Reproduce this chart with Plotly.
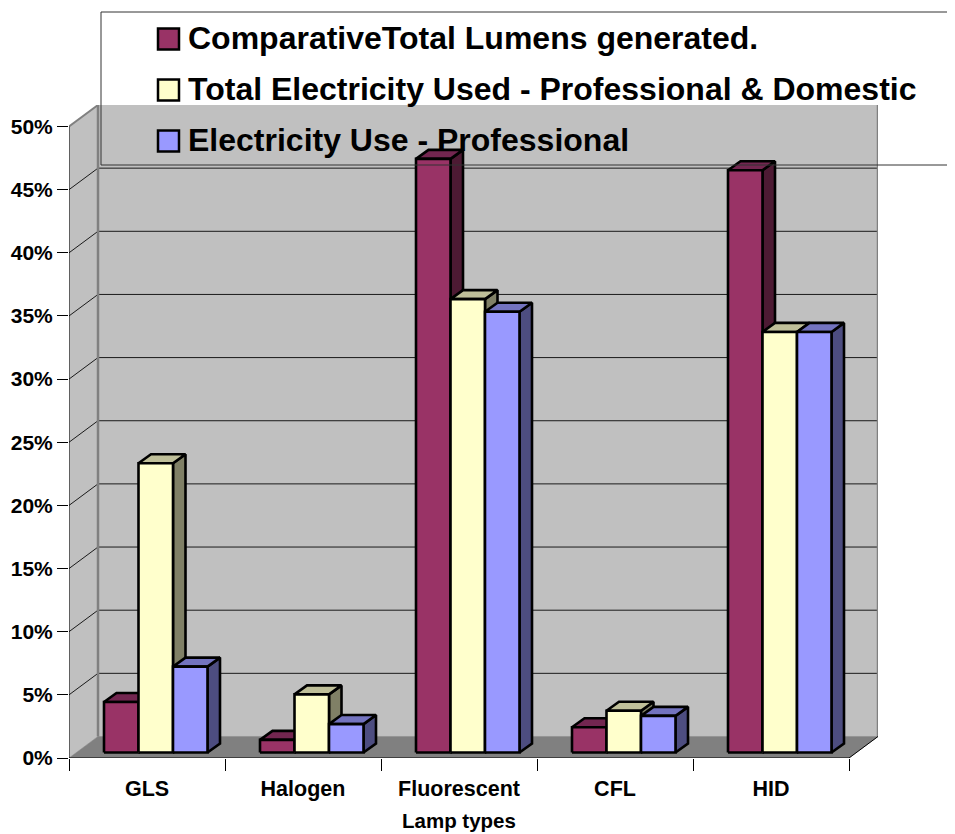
import plotly.graph_objects as go

categories = ["GLS", "Halogen", "Fluorescent", "CFL", "HID"]
series_names = ["ComparativeTotal Lumens generated.",
                "Total Electricity Used - Professional & Domestic",
                "Electricity Use - Professional"]
axis_title = "Lamp types"
lumens = [4.0, 1.0, 47.0, 2.0, 46.1]
total_use = [22.9, 4.6, 35.9, 3.3, 33.3]
professional = [6.8, 2.25, 34.9, 2.9, 33.3]
y_ticks = [0, 5, 10, 15, 20, 25, 30, 35, 40, 45, 50]

PAGE = 8                            # browser's body margin
W, H = 955 - PAGE, 834 - PAGE
L, R, T, B = 69 - PAGE, 878 - PAGE, 105 - PAGE, 758 - PAGE  # plot rectangle
PX_X = 156.0                        # pixels per category
PX_Y = 12.62                        # pixels per percent
DX, DY = 29 / PX_X, 21.5 / PX_Y     # wall depth, data units
BAR_W = 34.5 / PX_X
BAR_X0 = 35 / PX_X
BASE = 5.5 / PX_Y
BDX, BDY = 12.5 / PX_X, 9 / PX_Y    # bar depth, data units
FONT = "Liberation Sans, Arial, sans-serif"

front_cols = ["#993366", "#FFFFCC", "#9999FF"]
top_cols = ["#732650", "#BFBF99", "#7373BF"]
side_cols = ["#4D1A33", "#808066", "#4D4D80"]
WALL, FLOOR, EDGE = "#C0C0C0", "#808080", "#808080"

fig = go.Figure()


def poly(xs, ys, fill=None, color="black", width=1):
    fig.add_trace(go.Scatter(
        x=xs, y=ys, mode="lines", showlegend=False, hoverinfo="skip",
        fill="toself" if fill else None, fillcolor=fill,
        line=dict(color=color, width=width, simplify=False)))


x_end = len(categories)
top = max(y_ticks)
# walls and floor
poly([0, DX, DX, 0, 0], [0, DY, top + DY, top, 0], WALL, WALL, 0.5)
poly([DX, x_end + DX, x_end + DX, DX, DX], [DY, DY, top + DY, top + DY, DY], WALL, WALL, 0.5)
poly([0, x_end, x_end + DX, DX, 0], [0, 0, DY, DY, 0], FLOOR, FLOOR, 0.5)
# gridlines
gx, gy = [], []
for v in y_ticks[1:-1]:
    gx += [0, DX, x_end + DX, None]
    gy += [v, v + DY, v + DY, None]
poly(gx, gy, None, "#1a1a1a", 1)
# wall edges
poly([0, DX], [top, top + DY], None, EDGE, 2)
poly([DX, DX], [DY, top + DY], None, EDGE, 2.5)
poly([x_end + DX, x_end + DX], [DY, top + DY], None, EDGE, 2.5)
# axis lines
poly([0, 0], [0, top], None, "black", 1)
poly([0, x_end], [0, 0], None, "black", 1)
poly([x_end, x_end + DX], [0, DY], None, "black", 1)

# bars, series by series so each hides the side of the one before it
for s, vals in enumerate([lumens, total_use, professional]):
    fx, fy, tx, ty, sx, sy = [], [], [], [], [], []
    for c, v in enumerate(vals):
        x0 = c + BAR_X0 + s * BAR_W
        x1 = x0 + BAR_W
        y0, y1 = BASE, BASE + v
        fx += [x0, x1, x1, x0, x0, None]
        fy += [y0, y0, y1, y1, y0, None]
        tx += [x0, x1, x1 + BDX, x0 + BDX, x0, None]
        ty += [y1, y1, y1 + BDY, y1 + BDY, y1, None]
        sx += [x1, x1 + BDX, x1 + BDX, x1, x1, None]
        sy += [y0, y0 + BDY, y1 + BDY, y1, y0, None]
    poly(sx, sy, side_cols[s], "black", 2.6)
    poly(tx, ty, top_cols[s], "black", 2.6)
    poly(fx, fy, front_cols[s], "black", 2.6)


# legend, drawn in page-pixel positions over the chart
def px(v):
    return (v - PAGE - L) / (R - L)


def py(v):
    return (B - (v - PAGE)) / (B - T)


shapes = [dict(type="line", xref="paper", yref="paper", layer="above",
               x0=px(a), x1=px(c), y0=py(b), y1=py(d),
               line=dict(color="#333333", width=1))
          for a, b, c, d in [(101, 12, 955, 12), (101, 12, 101, 165), (101, 165, 955, 165)]]
annotations = []
for i, name in enumerate(series_names):
    cy = 39 + i * 51
    shapes.append(dict(type="rect", xref="paper", yref="paper", layer="above",
                       x0=px(158), x1=px(179), y0=py(cy + 10.5), y1=py(cy - 10.5),
                       fillcolor=front_cols[i], line=dict(color="black", width=2.5)))
    annotations.append(dict(text=name, xref="paper", yref="paper", showarrow=False,
                            x=px(186), y=py(cy - 0.7), xanchor="left", yanchor="middle",
                            font=dict(family=FONT, size=32, color="black", weight=700)))
annotations.append(dict(text=axis_title, xref="paper", yref="paper", showarrow=False,
                        x=px(459), y=py(820), xanchor="center", yanchor="middle",
                        font=dict(family=FONT, size=20.5, color="black", weight=700)))

fig.update_layout(
    width=W, height=H, autosize=False, showlegend=False,
    paper_bgcolor="white", plot_bgcolor="white",
    margin=dict(l=L, r=W - R, t=T, b=H - B, pad=0),
    shapes=shapes, annotations=annotations,
    xaxis=dict(range=[0, x_end + DX], tickmode="array", automargin=False,
               tickvals=[c + 0.5 for c in range(x_end)], ticktext=categories,
               ticks="outside", ticklen=11, tickcolor="rgba(0,0,0,0)",
               minor=dict(tickmode="array", tickvals=list(range(x_end + 1)),
                          ticks="outside", ticklen=12, tickcolor="black", tickwidth=1),
               showgrid=False, zeroline=False, showline=False,
               tickfont=dict(family=FONT, size=21.5, color="black", weight=700)),
    yaxis=dict(range=[0, top + DY], tickmode="array", tickvals=y_ticks, automargin=False,
               ticktext=[f"{v}%" for v in y_ticks],
               ticks="outside", ticklen=11, tickcolor="black", tickwidth=1,
               showgrid=False, zeroline=False, showline=False,
               tickfont=dict(family=FONT, size=21, color="black", weight=700)),
)
fig.write_html("out.html")
